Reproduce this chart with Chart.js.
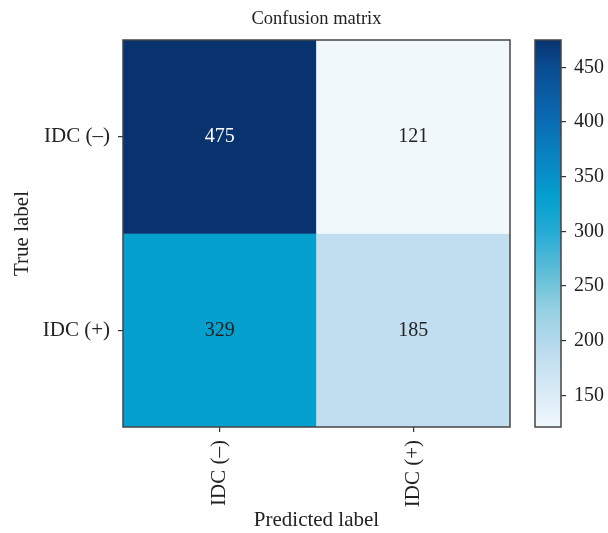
<!DOCTYPE html>
<html>
<head>
<meta charset="utf-8">
<script src="https://cdn.jsdelivr.net/npm/chart.js@4.4.0/dist/chart.umd.min.js"></script>
<style>
  html, body { margin: 0; padding: 0; background: #fff; }
  #wrap { position: relative; width: 608px; height: 533px; }
  canvas { position: absolute; top: 0; }
  #matrix { left: 0; }
  #colorbar { left: 500px; }
</style>
</head>
<body>
<div id="wrap">
  <canvas id="matrix" width="608" height="533"></canvas>
  <canvas id="colorbar" width="108" height="533"></canvas>
</div>
<script>
// Class labels
const predictedLabels = ['IDC (–)', 'IDC (+)'];
const trueLabels = ['IDC (–)', 'IDC (+)'];

// Counts per true class (columns follow predictedLabels)
const countsTrueNeg = [475, 121];
const countsTruePos = [329, 185];

// Colour bar tick values
const colorbarTicks = [150, 200, 250, 300, 350, 400, 450];

const rows = [countsTrueNeg, countsTruePos];
const allCounts = rows.flat();
const vmin = Math.min(...allCounts);
const vmax = Math.max(...allCounts);

// Colour map stops: fraction of the value range -> colour
const cmapStops = [
  [0.00, '#f0f8fc'],
  [0.18, '#c1def0'],
  [0.30, '#97d1e3'],
  [0.37, '#70c3da'],
  [0.50, '#27abd5'],
  [0.59, '#05a0cf'],
  [0.65, '#0890c8'],
  [0.79, '#0a6cb4'],
  [0.93, '#0a4c92'],
  [1.00, '#08336f']
];

const SERIF = "'Liberation Serif', 'Times New Roman', serif";
const TEXT = '#222';
const labelFont = { family: SERIF, size: 21, weight: 'normal' };
const valueFont = { family: SERIF, size: 20, weight: 'normal' };

function hexToRgb(h) {
  const n = parseInt(h.slice(1), 16);
  return [(n >> 16) & 255, (n >> 8) & 255, n & 255];
}
function colorFor(v) {
  const t = Math.max(0, Math.min(1, (v - vmin) / (vmax - vmin)));
  for (let i = 1; i < cmapStops.length; i++) {
    const [t1, c1] = cmapStops[i];
    const [t0, c0] = cmapStops[i - 1];
    if (t <= t1) {
      const f = (t - t0) / (t1 - t0);
      const a = hexToRgb(c0), b = hexToRgb(c1);
      const m = a.map((x, k) => Math.round(x + (b[k] - x) * f));
      return `rgb(${m[0]},${m[1]},${m[2]})`;
    }
  }
  return cmapStops[cmapStops.length - 1][1];
}

// Outline around the plotting area
const framePlugin = {
  id: 'frame',
  afterDatasetsDraw(chart) {
    const { ctx, chartArea: a } = chart;
    ctx.save();
    ctx.strokeStyle = '#444';
    ctx.lineWidth = 1.5;
    ctx.strokeRect(a.left, a.top, a.right - a.left, a.bottom - a.top);
    ctx.restore();
  }
};

// Count written in the middle of every cell
const cellTextPlugin = {
  id: 'cellText',
  afterDatasetsDraw(chart) {
    const { ctx } = chart;
    ctx.save();
    ctx.font = `${valueFont.size}px ${SERIF}`;
    ctx.textAlign = 'center';
    ctx.textBaseline = 'middle';
    chart.data.datasets.forEach((ds, i) => {
      const meta = chart.getDatasetMeta(i);
      meta.data.forEach((bar, j) => {
        const v = rows[i][j];
        const t = (v - vmin) / (vmax - vmin);
        ctx.fillStyle = t > 0.7 ? '#ffffff' : TEXT;
        ctx.fillText(String(v), bar.x, (bar.y + bar.base) / 2);
      });
    });
    ctx.restore();
  }
};

new Chart(document.getElementById('matrix'), {
  type: 'bar',
  data: {
    labels: predictedLabels,
    datasets: rows.map((r, i) => ({
      label: trueLabels[i],
      data: r.map(() => [i, i + 1]),
      backgroundColor: (c) => colorFor(rows[i][c.dataIndex]),
      borderWidth: 0,
      barPercentage: 1,
      categoryPercentage: 1,
      grouped: false
    }))
  },
  options: {
    responsive: false,
    animation: false,
    layout: { padding: { left: 8, right: 98, top: 0, bottom: 0 } },
    plugins: {
      legend: { display: false },
      tooltip: { enabled: false },
      title: {
        display: true,
        fullSize: false,
        text: 'Confusion matrix',
        color: TEXT,
        font: { family: SERIF, size: 18.5, weight: 'normal' },
        padding: { top: 7.8, bottom: 10 }
      }
    },
    scales: {
      x: {
        type: 'category',
        offset: true,
        grid: { display: true, offset: false, drawOnChartArea: false, drawTicks: true, tickLength: 5, color: '#333', lineWidth: 1.2 },
        border: { display: false },
        ticks: { minRotation: 90, maxRotation: 90, padding: 8, color: TEXT, font: labelFont },
        title: { display: true, text: 'Predicted label', color: TEXT, font: labelFont, padding: { top: 0, bottom: 0 } },
        afterFit(s) { s.height = 106; }
      },
      y: {
        type: 'linear',
        min: 0,
        max: 2,
        reverse: true,
        afterBuildTicks(s) { s.ticks = trueLabels.map((_, i) => ({ value: i + 0.5 })); },
        grid: { display: true, drawOnChartArea: false, drawTicks: true, tickLength: 5, color: '#333', lineWidth: 1.2 },
        border: { display: false },
        ticks: { padding: 8, color: TEXT, font: labelFont, autoSkip: false, callback: (v, idx) => trueLabels[idx] },
        title: { display: true, text: 'True label', color: TEXT, font: labelFont, padding: { top: 2, bottom: 0 } },
        afterFit(s) { s.width = 115; }
      }
    }
  },
  plugins: [cellTextPlugin, framePlugin]
});

new Chart(document.getElementById('colorbar'), {
  type: 'bar',
  data: {
    labels: [''],
    datasets: [{
      data: [[vmin, vmax]],
      borderWidth: 0,
      barPercentage: 1,
      categoryPercentage: 1,
      backgroundColor: (c) => {
        const chart = c.chart;
        const y = chart.scales.y;
        if (!chart.chartArea || !y) return colorFor((vmin + vmax) / 2);
        const g = chart.ctx.createLinearGradient(0, y.getPixelForValue(vmin), 0, y.getPixelForValue(vmax));
        cmapStops.forEach(([t, col]) => g.addColorStop(t, col));
        return g;
      }
    }]
  },
  options: {
    responsive: false,
    animation: false,
    layout: { padding: { left: 35, right: 0, top: 40, bottom: 106 } },
    plugins: { legend: { display: false }, tooltip: { enabled: false } },
    scales: {
      x: { display: false },
      y: {
        position: 'right',
        min: vmin,
        max: vmax,
        afterBuildTicks(s) { s.ticks = colorbarTicks.map(v => ({ value: v })); },
        grid: { display: true, drawOnChartArea: false, drawTicks: true, tickLength: 5, color: '#333', lineWidth: 1.2 },
        border: { display: false },
        ticks: { padding: 8, color: TEXT, font: valueFont },
        afterFit(s) { s.width = 47; }
      }
    }
  },
  plugins: [framePlugin]
});
</script>
</body>
</html>
